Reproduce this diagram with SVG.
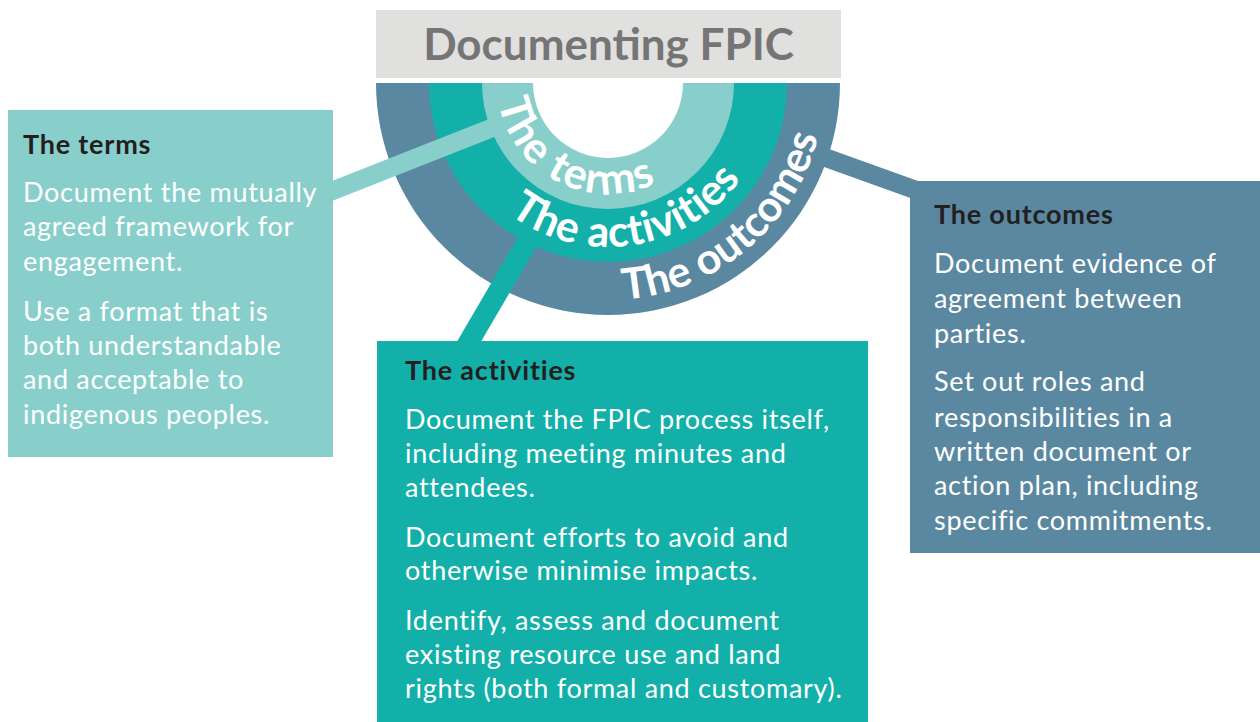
<svg xmlns="http://www.w3.org/2000/svg" width="1260" height="722" viewBox="0 0 1260 722">
<style>
.h{font-family:Lato,"Liberation Sans",sans-serif;font-weight:700;font-size:27px;letter-spacing:0.8px;fill:#231f20}
.b{font-family:Lato,"Liberation Sans",sans-serif;font-weight:400;font-size:27px;letter-spacing:0.7px;fill:#ffffff}
.ring{font-family:Lato,"Liberation Sans",sans-serif;font-weight:700;font-size:43px;fill:#ffffff}
.light{fill:#88cfcc}
.teal{fill:#13b0a9}
.slate{fill:#5b88a1}
</style>
<defs>
<path id="pTerms" d="M 497 83 A 111 111 0 0 0 719 83"/>
<path id="pAct" d="M 444 83 A 164 164 0 0 0 772 83"/>
<path id="pOut" d="M 391 83 A 217 217 0 0 0 825 83"/>
</defs>
<rect width="1260" height="722" fill="#ffffff"/>
<g id="title">
<rect x="376" y="10" width="465" height="68" fill="#e0e0df"/>
<text x="608.5" y="60" text-anchor="middle" font-family="Lato,'Liberation Sans',sans-serif" font-weight="700" font-size="44" fill="#757575">Documenting FPIC</text>
</g>
<g id="rings">
<path class="slate" d="M 376 83 A 232 232 0 0 0 840 83 Z"/>
<path class="teal" d="M 429 83 A 179 179 0 0 0 787 83 Z"/>
<path class="light" d="M 482 83 A 126 126 0 0 0 734 83 Z"/>
<path fill="#ffffff" d="M 533 83 A 75 75 0 0 0 683 83 Z"/>
</g>
<g id="connectors">
<polygon class="light" points="320,185.7 520,106.7 520,126.7 320,205.7"/>
<polygon class="teal" points="534,210 558,210 479,345 455,345"/>
<polygon class="slate" points="790,134.9 925,183.5 925,203.3 790,154.7"/>
</g>
<g id="terms">
<rect class="light" x="8" y="110" width="325" height="347"/>
<text class="h" x="23" y="154">The terms</text>
<text class="b" x="23" y="202">Document the mutually</text>
<text class="b" x="23" y="236">agreed framework for</text>
<text class="b" x="23" y="271">engagement.</text>
<text class="b" x="23" y="321">Use a format that is</text>
<text class="b" x="23" y="355">both understandable</text>
<text class="b" x="23" y="389">and acceptable to</text>
<text class="b" x="23" y="424">indigenous peoples.</text>
</g>
<g id="activities">
<rect class="teal" x="377" y="341" width="491" height="381"/>
<text class="h" x="405" y="380">The activities</text>
<text class="b" x="405" y="429">Document the FPIC process itself,</text>
<text class="b" x="405" y="463">including meeting minutes and</text>
<text class="b" x="405" y="497">attendees.</text>
<text class="b" x="405" y="547">Document efforts to avoid and</text>
<text class="b" x="405" y="580">otherwise minimise impacts.</text>
<text class="b" x="405" y="630">Identify, assess and document</text>
<text class="b" x="405" y="664">existing resource use and land</text>
<text class="b" x="405" y="698">rights (both formal and customary).</text>
</g>
<g id="outcomes">
<rect class="slate" x="910" y="181" width="350" height="372"/>
<text class="h" x="934" y="224">The outcomes</text>
<text class="b" x="934" y="273">Document evidence of</text>
<text class="b" x="934" y="308">agreement between</text>
<text class="b" x="934" y="343">parties.</text>
<text class="b" x="934" y="391">Set out roles and</text>
<text class="b" x="934" y="427">responsibilities in a</text>
<text class="b" x="934" y="461">written document or</text>
<text class="b" x="934" y="495">action plan, including</text>
<text class="b" x="934" y="530">specific commitments.</text>
</g>
<g id="ring-labels">
<text class="ring" font-size="45" letter-spacing="1.5"><textPath href="#pTerms" startOffset="122" text-anchor="middle">The terms</textPath></text>
<text class="ring" letter-spacing="0.5"><textPath href="#pAct" startOffset="282" text-anchor="middle">The activities</textPath></text>
<text class="ring"><textPath href="#pOut" startOffset="492" text-anchor="middle">The outcomes</textPath></text>
</g>
</svg>
